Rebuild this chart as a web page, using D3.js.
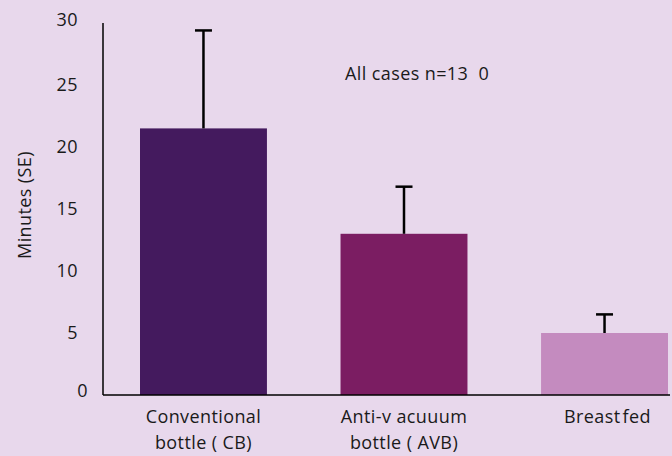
<!DOCTYPE html>
<html>
<head>
<meta charset="utf-8">
<script src="https://cdn.jsdelivr.net/npm/d3@7"></script>
<style>
  html, body { margin: 0; padding: 0; background: #e8d8ec; }
  svg { display: block; }
  text { font-family: "Open Sans", sans-serif; fill: #1a1a1a; letter-spacing: 0.4px; white-space: pre; }
</style>
</head>
<body>
<svg id="chart" width="672" height="456"></svg>
<script>
const categories = [["Conventional", "bottle ( CB)"], ["Anti-v acuuum", "bottle ( AVB)"], ["Breast fed"]];
const categoryKeys = ["CB", "AVB", "BF"];
const values = [21.5, 13.0, 5.0];
const errors = [7.9, 3.8, 1.5];
const colors = ["#441a5e", "#7b1d62", "#c48bbf"];
const yTicks = [0, 5, 10, 15, 20, 25, 30];
const annotation = "All cases n=13  0";
const yLabel = "Minutes (SE)";

const svg = d3.select("#chart");
const W = 672, H = 456;
const FS = 18;
svg.append("rect").attr("width", W).attr("height", H).attr("fill", "#e8d8ec");

const x0 = 103, y0 = 395, yTop = 23;
const y = d3.scaleLinear().domain([0, 30]).range([y0, yTop]);
const x = d3.scaleBand().domain(categoryKeys).range([x0, 705])
  .paddingInner(0.367).paddingOuter(0.1845);

// bars
svg.selectAll("rect.bar").data(values).join("rect")
  .attr("class", "bar")
  .attr("x", (d, i) => x(categoryKeys[i]))
  .attr("width", x.bandwidth())
  .attr("y", d => y(d))
  .attr("height", d => y(0) - y(d))
  .attr("fill", (d, i) => colors[i]);

// error bars
const eg = svg.append("g");
values.forEach((v, i) => {
  const cx = x(categoryKeys[i]) + x.bandwidth() / 2;
  eg.append("line").attr("x1", cx).attr("x2", cx)
    .attr("y1", y(v)).attr("y2", y(v + errors[i]))
    .attr("stroke", "#000").attr("stroke-width", 2.5);
  eg.append("line").attr("x1", cx - 8.5).attr("x2", cx + 8.5)
    .attr("y1", y(v + errors[i])).attr("y2", y(v + errors[i]))
    .attr("stroke", "#000").attr("stroke-width", 2.5);
});

// axes lines
svg.append("line").attr("x1", x0).attr("x2", x0).attr("y1", yTop).attr("y2", y0)
  .attr("stroke", "#000").attr("stroke-width", 1.5);
svg.append("line").attr("x1", x0).attr("x2", 670).attr("y1", y0).attr("y2", y0)
  .attr("stroke", "#000").attr("stroke-width", 1.5);

// y tick labels
const yAxis = d3.axisLeft(y).tickValues(yTicks).tickSize(0).tickPadding(0);
const ya = svg.append("g").attr("transform", "translate(78,0)").call(yAxis);
ya.select(".domain").remove();
ya.selectAll("text").attr("font-size", FS).attr("font-family", "Open Sans, sans-serif")
  .attr("fill", "#1a1a1a").attr("dy", "0.32em");
ya.selectAll("text").filter(d => d === 0).attr("dy", "0.1em").attr("dx", "0.55em");
ya.selectAll("text").filter(d => d === 30).attr("dy", "0.15em");

// y label
svg.append("text")
  .attr("transform", "translate(31,205) rotate(-90)")
  .attr("text-anchor", "middle")
  .attr("font-size", FS)
  .text(yLabel);

// category labels
categories.forEach((lines, i) => {
  const cx = x(categoryKeys[i]) + x.bandwidth() / 2 + (i === 2 ? 3 : 0);
  lines.forEach((t, j) => {
    svg.append("text").attr("x", cx).attr("y", 423 + j * 26)
      .attr("text-anchor", "middle").attr("font-size", FS)
      .attr("word-spacing", i === 2 ? "-3px" : null)
      .text(t);
  });
});

// annotation
svg.append("text").attr("x", 345).attr("y", 80).attr("font-size", FS).text(annotation);
</script>
</body>
</html>
